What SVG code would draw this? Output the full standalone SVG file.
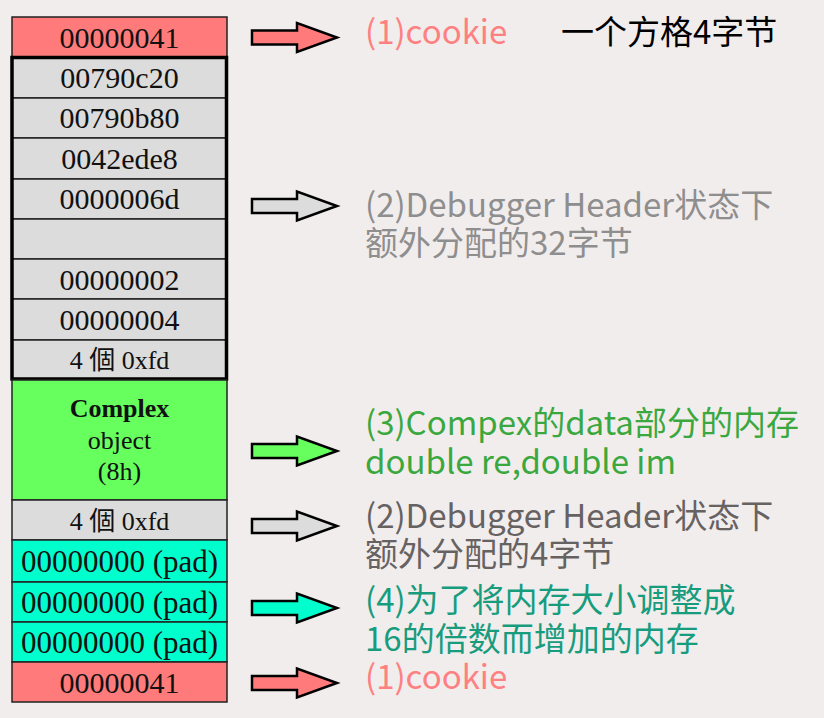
<svg xmlns="http://www.w3.org/2000/svg" width="824" height="718" viewBox="0 0 824 718">
<style>
.cell{stroke:#222;stroke-width:1.5}
.pink{fill:#FF7B7B}
.gray{fill:#DCDCDC}
.green{fill:#66FF5E}
.cyan{fill:#00FFCC}
.mono{font-family:"Liberation Serif","Noto Sans CJK TC",serif;font-size:30px;fill:#111;text-anchor:middle}
.padt{font-size:31px}
.small{font-size:26px}
.bold{font-weight:bold}
.note{font-family:"Noto Sans CJK SC",sans-serif;font-size:33px}
.arrow{stroke:#000;stroke-width:2.5;stroke-linejoin:miter}
</style>
<defs>
<path id="arr" d="M0,-7 H45 V-14.5 L85,0 L45,14.5 V7 H0 Z"/>
</defs>
<rect x="0" y="0" width="824" height="718" fill="#F2EDED"/>

<g id="cookie-top">
<rect class="cell pink" x="12" y="17" width="215" height="40"/>
<text class="mono" x="119.5" y="48">00000041</text>
</g>
<g id="debug-header">
<g id="row-00790c20"><rect class="cell gray" x="12" y="57" width="215" height="41"/><text class="mono" x="119.5" y="88">00790c20</text></g>
<g id="row-00790b80"><rect class="cell gray" x="12" y="98" width="215" height="40"/><text class="mono" x="119.5" y="128">00790b80</text></g>
<g id="row-0042ede8"><rect class="cell gray" x="12" y="138" width="215" height="41"/><text class="mono" x="119.5" y="169">0042ede8</text></g>
<g id="row-0000006d"><rect class="cell gray" x="12" y="179" width="215" height="40"/><text class="mono" x="119.5" y="209">0000006d</text></g>
<g id="row-empty"><rect class="cell gray" x="12" y="219" width="215" height="40"/></g>
<g id="row-00000002"><rect class="cell gray" x="12" y="259" width="215" height="40"/><text class="mono" x="119.5" y="290">00000002</text></g>
<g id="row-00000004"><rect class="cell gray" x="12" y="299" width="215" height="41"/><text class="mono" x="119.5" y="330">00000004</text></g>
<g id="row-fd1"><rect class="cell gray" x="12" y="340" width="215" height="39"/><text class="mono small" x="119.5" y="369">4 個 0xfd</text></g>
<rect x="12" y="57.5" width="214.5" height="321.5" fill="none" stroke="#000" stroke-width="3.5"/>
</g>
<g id="complex-object">
<rect class="cell green" x="12" y="380" width="215" height="120"/>
<text class="mono small bold" x="119.5" y="417">Complex</text>
<text class="mono small" x="119.5" y="449">object</text>
<text class="mono small" x="119.5" y="480">(8h)</text>
</g>
<g id="row-fd2">
<rect class="cell gray" x="12" y="500" width="215" height="40"/>
<text class="mono small" x="119.5" y="530">4 個 0xfd</text>
</g>
<g id="pad">
<g id="pad-1"><rect class="cell cyan" x="12" y="540" width="215" height="42"/><text class="mono padt" x="119.5" y="572">00000000 (pad)</text></g>
<g id="pad-2"><rect class="cell cyan" x="12" y="582" width="215" height="40"/><text class="mono padt" x="119.5" y="613">00000000 (pad)</text></g>
<g id="pad-3"><rect class="cell cyan" x="12" y="622" width="215" height="40"/><text class="mono padt" x="119.5" y="653">00000000 (pad)</text></g>
</g>
<g id="cookie-bottom">
<rect class="cell pink" x="12" y="662" width="215" height="40"/>
<text class="mono" x="119.5" y="693">00000041</text>
</g>

<g id="connectors">
<use href="#arr" class="arrow pink" x="252" y="37.5"/>
<use href="#arr" class="arrow gray" x="252" y="206"/>
<use href="#arr" class="arrow green" x="252" y="451"/>
<use href="#arr" class="arrow gray" x="252" y="526"/>
<use href="#arr" class="arrow cyan" x="252" y="608"/>
<use href="#arr" class="arrow pink" x="252" y="683"/>
</g>

<g id="labels">
<text class="note" x="365" y="44" fill="#FF8080">(1)cookie</text>
<text class="note" x="561" y="44" fill="#000">一个方格4字节</text>
<text class="note" fill="#8E8E8E"><tspan x="365" y="217">(2)Debugger Header状态下</tspan><tspan x="365" y="255">额外分配的32字节</tspan></text>
<text class="note" fill="#3AA83E"><tspan x="365" y="435">(3)Compex的data部分的内存</tspan><tspan x="365" y="474">double re,double im</tspan></text>
<text class="note" fill="#666262"><tspan x="365" y="528">(2)Debugger Header状态下</tspan><tspan x="365" y="566">额外分配的4字节</tspan></text>
<text class="note" fill="#179C7D"><tspan x="365" y="612">(4)为了将内存大小调整成</tspan><tspan x="365" y="651">16的倍数而增加的内存</tspan></text>
<text class="note" x="365" y="689" fill="#FF8080">(1)cookie</text>
</g>
</svg>
